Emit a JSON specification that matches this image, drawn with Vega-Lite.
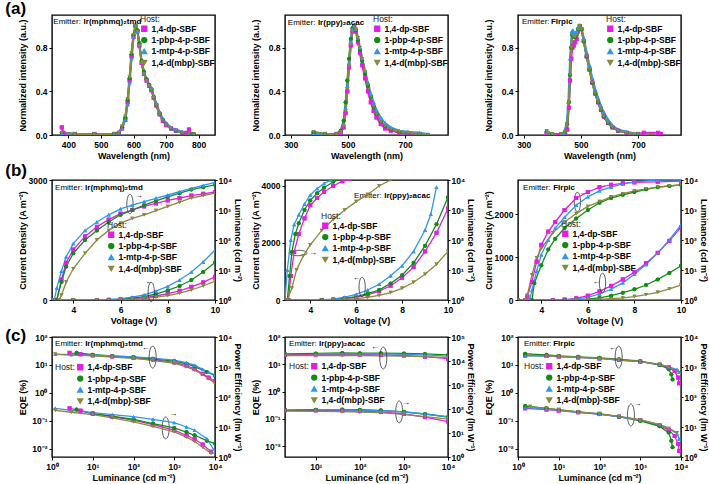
{
"$schema": "https://vega.github.io/schema/vega-lite/v6.json",
"padding": {"left": 5, "top": 0, "right": 0, "bottom": 0},
"background": "white",
"config": {
 "font": "Liberation Sans",
 "view": {"stroke": "black", "strokeWidth": 1.4},
 "axis": {"labelFontSize": 8.5, "labelFontWeight": "bold", "labelColor": "black", "titleFontSize": 9, "titleFontWeight": "bold", "titleColor": "black", "grid": false, "domain": false, "tickColor": "black", "tickSize": 3, "tickWidth": 1, "labelPadding": 2, "titlePadding": 3, "labelFlush": false, "labelOverlap": false},
 "axisLeft": {"titleX": -25, "titleY": 60},
 "axisRight": {"tickSize": 2, "labelPadding": 1, "titlePadding": 1},
 "legend": {"titleFontWeight": "normal", "titleFontSize": 8.5, "titleColor": "#222222", "labelFontSize": 8.5, "labelFontWeight": "bold", "labelColor": "black", "symbolSize": 25, "rowPadding": 0.3, "padding": 0, "titlePadding": 1, "labelOffset": 3, "symbolStrokeWidth": 0},
 "range": {"category": ["#e31ee3", "#128c12", "#3097f0", "#8a8a3e"], "symbol": ["square", "circle", "triangle-up", "triangle-down"]},
 "line": {"strokeWidth": 1.3},
 "point": {"filled": true, "size": 16, "opacity": 1},
 "text": {"fontSize": 8, "color": "black"}
},
"datasets": {
 "a1": [
  {"s":"1,4-dp-SBF","x":380,"y":0.07},{"s":"1,4-dp-SBF","x":385,"y":0.02},{"s":"1,4-dp-SBF","x":420,"y":0.01},{"s":"1,4-dp-SBF","x":480,"y":0.01},{"s":"1,4-dp-SBF","x":540,"y":0.01},{"s":"1,4-dp-SBF","x":555,"y":0.02},{"s":"1,4-dp-SBF","x":565,"y":0.06},{"s":"1,4-dp-SBF","x":575,"y":0.14},{"s":"1,4-dp-SBF","x":582,"y":0.3},{"s":"1,4-dp-SBF","x":588,"y":0.5},{"s":"1,4-dp-SBF","x":594,"y":0.72},{"s":"1,4-dp-SBF","x":600,"y":0.9},{"s":"1,4-dp-SBF","x":606,"y":1.0},{"s":"1,4-dp-SBF","x":612,"y":0.95},{"s":"1,4-dp-SBF","x":618,"y":0.82},{"s":"1,4-dp-SBF","x":625,"y":0.66},{"s":"1,4-dp-SBF","x":632,"y":0.56},{"s":"1,4-dp-SBF","x":640,"y":0.5},{"s":"1,4-dp-SBF","x":648,"y":0.45},{"s":"1,4-dp-SBF","x":655,"y":0.41},{"s":"1,4-dp-SBF","x":662,"y":0.34},{"s":"1,4-dp-SBF","x":670,"y":0.27},{"s":"1,4-dp-SBF","x":680,"y":0.19},{"s":"1,4-dp-SBF","x":690,"y":0.13},{"s":"1,4-dp-SBF","x":700,"y":0.09},{"s":"1,4-dp-SBF","x":715,"y":0.06},{"s":"1,4-dp-SBF","x":730,"y":0.04},{"s":"1,4-dp-SBF","x":750,"y":0.02},{"s":"1,4-dp-SBF","x":765,"y":0.02},{"s":"1,4-dp-SBF","x":770,"y":0.05},{"s":"1,4-dp-SBF","x":775,"y":0.01},{"s":"1,4-dp-SBF","x":785,"y":0.0},
  {"s":"1-pbp-4-p-SBF","x":380,"y":0.02},{"s":"1-pbp-4-p-SBF","x":420,"y":0.01},{"s":"1-pbp-4-p-SBF","x":480,"y":0.01},{"s":"1-pbp-4-p-SBF","x":540,"y":0.01},{"s":"1-pbp-4-p-SBF","x":555,"y":0.02},{"s":"1-pbp-4-p-SBF","x":565,"y":0.07},{"s":"1-pbp-4-p-SBF","x":575,"y":0.16},{"s":"1-pbp-4-p-SBF","x":582,"y":0.32},{"s":"1-pbp-4-p-SBF","x":588,"y":0.52},{"s":"1-pbp-4-p-SBF","x":594,"y":0.74},{"s":"1-pbp-4-p-SBF","x":600,"y":0.92},{"s":"1-pbp-4-p-SBF","x":606,"y":1.0},{"s":"1-pbp-4-p-SBF","x":612,"y":0.96},{"s":"1-pbp-4-p-SBF","x":618,"y":0.84},{"s":"1-pbp-4-p-SBF","x":625,"y":0.68},{"s":"1-pbp-4-p-SBF","x":632,"y":0.58},{"s":"1-pbp-4-p-SBF","x":640,"y":0.51},{"s":"1-pbp-4-p-SBF","x":648,"y":0.46},{"s":"1-pbp-4-p-SBF","x":655,"y":0.42},{"s":"1-pbp-4-p-SBF","x":662,"y":0.35},{"s":"1-pbp-4-p-SBF","x":670,"y":0.28},{"s":"1-pbp-4-p-SBF","x":680,"y":0.2},{"s":"1-pbp-4-p-SBF","x":690,"y":0.14},{"s":"1-pbp-4-p-SBF","x":700,"y":0.1},{"s":"1-pbp-4-p-SBF","x":715,"y":0.06},{"s":"1-pbp-4-p-SBF","x":730,"y":0.04},{"s":"1-pbp-4-p-SBF","x":750,"y":0.02},{"s":"1-pbp-4-p-SBF","x":770,"y":0.01},{"s":"1-pbp-4-p-SBF","x":785,"y":0.01},
  {"s":"1-mtp-4-p-SBF","x":380,"y":0.01},{"s":"1-mtp-4-p-SBF","x":420,"y":0.01},{"s":"1-mtp-4-p-SBF","x":480,"y":0.01},{"s":"1-mtp-4-p-SBF","x":540,"y":0.01},{"s":"1-mtp-4-p-SBF","x":555,"y":0.02},{"s":"1-mtp-4-p-SBF","x":565,"y":0.06},{"s":"1-mtp-4-p-SBF","x":575,"y":0.14},{"s":"1-mtp-4-p-SBF","x":582,"y":0.28},{"s":"1-mtp-4-p-SBF","x":588,"y":0.48},{"s":"1-mtp-4-p-SBF","x":594,"y":0.7},{"s":"1-mtp-4-p-SBF","x":600,"y":0.9},{"s":"1-mtp-4-p-SBF","x":606,"y":1.0},{"s":"1-mtp-4-p-SBF","x":612,"y":0.95},{"s":"1-mtp-4-p-SBF","x":618,"y":0.83},{"s":"1-mtp-4-p-SBF","x":625,"y":0.67},{"s":"1-mtp-4-p-SBF","x":632,"y":0.57},{"s":"1-mtp-4-p-SBF","x":640,"y":0.5},{"s":"1-mtp-4-p-SBF","x":648,"y":0.46},{"s":"1-mtp-4-p-SBF","x":655,"y":0.43},{"s":"1-mtp-4-p-SBF","x":662,"y":0.36},{"s":"1-mtp-4-p-SBF","x":670,"y":0.29},{"s":"1-mtp-4-p-SBF","x":680,"y":0.21},{"s":"1-mtp-4-p-SBF","x":690,"y":0.15},{"s":"1-mtp-4-p-SBF","x":700,"y":0.11},{"s":"1-mtp-4-p-SBF","x":715,"y":0.07},{"s":"1-mtp-4-p-SBF","x":730,"y":0.05},{"s":"1-mtp-4-p-SBF","x":750,"y":0.03},{"s":"1-mtp-4-p-SBF","x":770,"y":0.02},{"s":"1-mtp-4-p-SBF","x":785,"y":0.01},
  {"s":"1,4-d(mbp)-SBF","x":380,"y":0.02},{"s":"1,4-d(mbp)-SBF","x":420,"y":0.01},{"s":"1,4-d(mbp)-SBF","x":480,"y":0.01},{"s":"1,4-d(mbp)-SBF","x":540,"y":0.01},{"s":"1,4-d(mbp)-SBF","x":555,"y":0.02},{"s":"1,4-d(mbp)-SBF","x":565,"y":0.08},{"s":"1,4-d(mbp)-SBF","x":575,"y":0.17},{"s":"1,4-d(mbp)-SBF","x":582,"y":0.33},{"s":"1,4-d(mbp)-SBF","x":588,"y":0.53},{"s":"1,4-d(mbp)-SBF","x":594,"y":0.75},{"s":"1,4-d(mbp)-SBF","x":600,"y":0.92},{"s":"1,4-d(mbp)-SBF","x":606,"y":1.0},{"s":"1,4-d(mbp)-SBF","x":612,"y":0.95},{"s":"1,4-d(mbp)-SBF","x":618,"y":0.82},{"s":"1,4-d(mbp)-SBF","x":625,"y":0.66},{"s":"1,4-d(mbp)-SBF","x":632,"y":0.56},{"s":"1,4-d(mbp)-SBF","x":640,"y":0.5},{"s":"1,4-d(mbp)-SBF","x":648,"y":0.45},{"s":"1,4-d(mbp)-SBF","x":655,"y":0.41},{"s":"1,4-d(mbp)-SBF","x":662,"y":0.34},{"s":"1,4-d(mbp)-SBF","x":670,"y":0.27},{"s":"1,4-d(mbp)-SBF","x":680,"y":0.19},{"s":"1,4-d(mbp)-SBF","x":690,"y":0.13},{"s":"1,4-d(mbp)-SBF","x":700,"y":0.09},{"s":"1,4-d(mbp)-SBF","x":715,"y":0.06},{"s":"1,4-d(mbp)-SBF","x":730,"y":0.04},{"s":"1,4-d(mbp)-SBF","x":750,"y":0.02},{"s":"1,4-d(mbp)-SBF","x":770,"y":0.01},{"s":"1,4-d(mbp)-SBF","x":785,"y":0.0}
 ],
 "a2": [
  {"s":"1,4-dp-SBF","x":380,"y":0.02},{"s":"1,4-dp-SBF","x":420,"y":0.01},{"s":"1,4-dp-SBF","x":460,"y":0.01},{"s":"1,4-dp-SBF","x":475,"y":0.02},{"s":"1,4-dp-SBF","x":485,"y":0.07},{"s":"1,4-dp-SBF","x":492,"y":0.2},{"s":"1,4-dp-SBF","x":498,"y":0.4},{"s":"1,4-dp-SBF","x":504,"y":0.62},{"s":"1,4-dp-SBF","x":510,"y":0.82},{"s":"1,4-dp-SBF","x":516,"y":0.95},{"s":"1,4-dp-SBF","x":522,"y":1.0},{"s":"1,4-dp-SBF","x":528,"y":0.95},{"s":"1,4-dp-SBF","x":535,"y":0.85},{"s":"1,4-dp-SBF","x":542,"y":0.75},{"s":"1,4-dp-SBF","x":550,"y":0.64},{"s":"1,4-dp-SBF","x":560,"y":0.52},{"s":"1,4-dp-SBF","x":570,"y":0.4},{"s":"1,4-dp-SBF","x":580,"y":0.3},{"s":"1,4-dp-SBF","x":590,"y":0.22},{"s":"1,4-dp-SBF","x":600,"y":0.16},{"s":"1,4-dp-SBF","x":615,"y":0.1},{"s":"1,4-dp-SBF","x":630,"y":0.06},{"s":"1,4-dp-SBF","x":650,"y":0.04},{"s":"1,4-dp-SBF","x":680,"y":0.02},{"s":"1,4-dp-SBF","x":710,"y":0.01},{"s":"1,4-dp-SBF","x":750,"y":0.01},{"s":"1,4-dp-SBF","x":780,"y":0.0},
  {"s":"1-pbp-4-p-SBF","x":380,"y":0.02},{"s":"1-pbp-4-p-SBF","x":420,"y":0.01},{"s":"1-pbp-4-p-SBF","x":460,"y":0.01},{"s":"1-pbp-4-p-SBF","x":475,"y":0.04},{"s":"1-pbp-4-p-SBF","x":485,"y":0.13},{"s":"1-pbp-4-p-SBF","x":492,"y":0.3},{"s":"1-pbp-4-p-SBF","x":498,"y":0.5},{"s":"1-pbp-4-p-SBF","x":504,"y":0.7},{"s":"1-pbp-4-p-SBF","x":510,"y":0.88},{"s":"1-pbp-4-p-SBF","x":516,"y":0.98},{"s":"1-pbp-4-p-SBF","x":522,"y":1.0},{"s":"1-pbp-4-p-SBF","x":528,"y":0.96},{"s":"1-pbp-4-p-SBF","x":535,"y":0.87},{"s":"1-pbp-4-p-SBF","x":542,"y":0.78},{"s":"1-pbp-4-p-SBF","x":550,"y":0.68},{"s":"1-pbp-4-p-SBF","x":560,"y":0.56},{"s":"1-pbp-4-p-SBF","x":570,"y":0.45},{"s":"1-pbp-4-p-SBF","x":580,"y":0.35},{"s":"1-pbp-4-p-SBF","x":590,"y":0.26},{"s":"1-pbp-4-p-SBF","x":600,"y":0.19},{"s":"1-pbp-4-p-SBF","x":615,"y":0.12},{"s":"1-pbp-4-p-SBF","x":630,"y":0.08},{"s":"1-pbp-4-p-SBF","x":650,"y":0.05},{"s":"1-pbp-4-p-SBF","x":680,"y":0.03},{"s":"1-pbp-4-p-SBF","x":710,"y":0.02},{"s":"1-pbp-4-p-SBF","x":750,"y":0.01},{"s":"1-pbp-4-p-SBF","x":780,"y":0.0},
  {"s":"1-mtp-4-p-SBF","x":380,"y":0.01},{"s":"1-mtp-4-p-SBF","x":420,"y":0.01},{"s":"1-mtp-4-p-SBF","x":460,"y":0.01},{"s":"1-mtp-4-p-SBF","x":475,"y":0.03},{"s":"1-mtp-4-p-SBF","x":485,"y":0.1},{"s":"1-mtp-4-p-SBF","x":492,"y":0.25},{"s":"1-mtp-4-p-SBF","x":498,"y":0.45},{"s":"1-mtp-4-p-SBF","x":504,"y":0.66},{"s":"1-mtp-4-p-SBF","x":510,"y":0.86},{"s":"1-mtp-4-p-SBF","x":516,"y":0.97},{"s":"1-mtp-4-p-SBF","x":522,"y":1.0},{"s":"1-mtp-4-p-SBF","x":528,"y":0.97},{"s":"1-mtp-4-p-SBF","x":535,"y":0.89},{"s":"1-mtp-4-p-SBF","x":542,"y":0.8},{"s":"1-mtp-4-p-SBF","x":550,"y":0.7},{"s":"1-mtp-4-p-SBF","x":560,"y":0.59},{"s":"1-mtp-4-p-SBF","x":570,"y":0.48},{"s":"1-mtp-4-p-SBF","x":580,"y":0.38},{"s":"1-mtp-4-p-SBF","x":590,"y":0.3},{"s":"1-mtp-4-p-SBF","x":600,"y":0.23},{"s":"1-mtp-4-p-SBF","x":615,"y":0.16},{"s":"1-mtp-4-p-SBF","x":630,"y":0.11},{"s":"1-mtp-4-p-SBF","x":650,"y":0.07},{"s":"1-mtp-4-p-SBF","x":680,"y":0.04},{"s":"1-mtp-4-p-SBF","x":710,"y":0.03},{"s":"1-mtp-4-p-SBF","x":750,"y":0.02},{"s":"1-mtp-4-p-SBF","x":780,"y":0.01},
  {"s":"1,4-d(mbp)-SBF","x":380,"y":0.03},{"s":"1,4-d(mbp)-SBF","x":420,"y":0.01},{"s":"1,4-d(mbp)-SBF","x":460,"y":0.01},{"s":"1,4-d(mbp)-SBF","x":475,"y":0.03},{"s":"1,4-d(mbp)-SBF","x":485,"y":0.08},{"s":"1,4-d(mbp)-SBF","x":492,"y":0.22},{"s":"1,4-d(mbp)-SBF","x":498,"y":0.42},{"s":"1,4-d(mbp)-SBF","x":504,"y":0.63},{"s":"1,4-d(mbp)-SBF","x":510,"y":0.83},{"s":"1,4-d(mbp)-SBF","x":516,"y":0.95},{"s":"1,4-d(mbp)-SBF","x":522,"y":1.0},{"s":"1,4-d(mbp)-SBF","x":528,"y":0.97},{"s":"1,4-d(mbp)-SBF","x":535,"y":0.89},{"s":"1,4-d(mbp)-SBF","x":542,"y":0.8},{"s":"1,4-d(mbp)-SBF","x":550,"y":0.7},{"s":"1,4-d(mbp)-SBF","x":560,"y":0.58},{"s":"1,4-d(mbp)-SBF","x":570,"y":0.46},{"s":"1,4-d(mbp)-SBF","x":580,"y":0.35},{"s":"1,4-d(mbp)-SBF","x":590,"y":0.26},{"s":"1,4-d(mbp)-SBF","x":600,"y":0.19},{"s":"1,4-d(mbp)-SBF","x":615,"y":0.12},{"s":"1,4-d(mbp)-SBF","x":630,"y":0.08},{"s":"1,4-d(mbp)-SBF","x":650,"y":0.05},{"s":"1,4-d(mbp)-SBF","x":680,"y":0.03},{"s":"1,4-d(mbp)-SBF","x":710,"y":0.02},{"s":"1,4-d(mbp)-SBF","x":750,"y":0.01},{"s":"1,4-d(mbp)-SBF","x":780,"y":0.0}
 ],
 "a3": [
  {"s":"1,4-dp-SBF","x":380,"y":0.01},{"s":"1,4-dp-SBF","x":420,"y":0.0},{"s":"1,4-dp-SBF","x":445,"y":0.0},{"s":"1,4-dp-SBF","x":452,"y":0.05},{"s":"1,4-dp-SBF","x":458,"y":0.25},{"s":"1,4-dp-SBF","x":462,"y":0.5},{"s":"1,4-dp-SBF","x":466,"y":0.7},{"s":"1,4-dp-SBF","x":470,"y":0.8},{"s":"1,4-dp-SBF","x":475,"y":0.82},{"s":"1,4-dp-SBF","x":480,"y":0.85},{"s":"1,4-dp-SBF","x":485,"y":0.88},{"s":"1,4-dp-SBF","x":490,"y":0.95},{"s":"1,4-dp-SBF","x":496,"y":1.0},{"s":"1,4-dp-SBF","x":502,"y":0.97},{"s":"1,4-dp-SBF","x":510,"y":0.86},{"s":"1,4-dp-SBF","x":520,"y":0.72},{"s":"1,4-dp-SBF","x":530,"y":0.6},{"s":"1,4-dp-SBF","x":540,"y":0.48},{"s":"1,4-dp-SBF","x":550,"y":0.38},{"s":"1,4-dp-SBF","x":560,"y":0.3},{"s":"1,4-dp-SBF","x":570,"y":0.23},{"s":"1,4-dp-SBF","x":580,"y":0.17},{"s":"1,4-dp-SBF","x":595,"y":0.11},{"s":"1,4-dp-SBF","x":610,"y":0.07},{"s":"1,4-dp-SBF","x":630,"y":0.04},{"s":"1,4-dp-SBF","x":660,"y":0.02},{"s":"1,4-dp-SBF","x":700,"y":0.01},{"s":"1,4-dp-SBF","x":720,"y":0.02},{"s":"1,4-dp-SBF","x":770,"y":0.02},{"s":"1,4-dp-SBF","x":780,"y":0.01},
  {"s":"1-pbp-4-p-SBF","x":380,"y":0.03},{"s":"1-pbp-4-p-SBF","x":400,"y":0.01},{"s":"1-pbp-4-p-SBF","x":430,"y":0.01},{"s":"1-pbp-4-p-SBF","x":445,"y":0.03},{"s":"1-pbp-4-p-SBF","x":452,"y":0.1},{"s":"1-pbp-4-p-SBF","x":458,"y":0.3},{"s":"1-pbp-4-p-SBF","x":462,"y":0.55},{"s":"1-pbp-4-p-SBF","x":466,"y":0.8},{"s":"1-pbp-4-p-SBF","x":470,"y":0.92},{"s":"1-pbp-4-p-SBF","x":475,"y":0.9},{"s":"1-pbp-4-p-SBF","x":480,"y":0.9},{"s":"1-pbp-4-p-SBF","x":485,"y":0.92},{"s":"1-pbp-4-p-SBF","x":490,"y":0.97},{"s":"1-pbp-4-p-SBF","x":496,"y":1.0},{"s":"1-pbp-4-p-SBF","x":502,"y":0.97},{"s":"1-pbp-4-p-SBF","x":510,"y":0.86},{"s":"1-pbp-4-p-SBF","x":520,"y":0.72},{"s":"1-pbp-4-p-SBF","x":530,"y":0.6},{"s":"1-pbp-4-p-SBF","x":540,"y":0.48},{"s":"1-pbp-4-p-SBF","x":550,"y":0.38},{"s":"1-pbp-4-p-SBF","x":560,"y":0.3},{"s":"1-pbp-4-p-SBF","x":570,"y":0.23},{"s":"1-pbp-4-p-SBF","x":580,"y":0.17},{"s":"1-pbp-4-p-SBF","x":595,"y":0.11},{"s":"1-pbp-4-p-SBF","x":610,"y":0.07},{"s":"1-pbp-4-p-SBF","x":630,"y":0.04},{"s":"1-pbp-4-p-SBF","x":660,"y":0.02},{"s":"1-pbp-4-p-SBF","x":700,"y":0.01},{"s":"1-pbp-4-p-SBF","x":750,"y":0.0},
  {"s":"1-mtp-4-p-SBF","x":380,"y":0.02},{"s":"1-mtp-4-p-SBF","x":400,"y":0.01},{"s":"1-mtp-4-p-SBF","x":430,"y":0.01},{"s":"1-mtp-4-p-SBF","x":440,"y":0.02},{"s":"1-mtp-4-p-SBF","x":450,"y":0.1},{"s":"1-mtp-4-p-SBF","x":456,"y":0.3},{"s":"1-mtp-4-p-SBF","x":462,"y":0.7},{"s":"1-mtp-4-p-SBF","x":468,"y":0.95},{"s":"1-mtp-4-p-SBF","x":472,"y":0.96},{"s":"1-mtp-4-p-SBF","x":478,"y":0.93},{"s":"1-mtp-4-p-SBF","x":485,"y":0.95},{"s":"1-mtp-4-p-SBF","x":490,"y":0.98},{"s":"1-mtp-4-p-SBF","x":496,"y":1.0},{"s":"1-mtp-4-p-SBF","x":502,"y":0.98},{"s":"1-mtp-4-p-SBF","x":510,"y":0.89},{"s":"1-mtp-4-p-SBF","x":520,"y":0.76},{"s":"1-mtp-4-p-SBF","x":530,"y":0.64},{"s":"1-mtp-4-p-SBF","x":540,"y":0.52},{"s":"1-mtp-4-p-SBF","x":550,"y":0.42},{"s":"1-mtp-4-p-SBF","x":560,"y":0.34},{"s":"1-mtp-4-p-SBF","x":570,"y":0.27},{"s":"1-mtp-4-p-SBF","x":580,"y":0.21},{"s":"1-mtp-4-p-SBF","x":595,"y":0.14},{"s":"1-mtp-4-p-SBF","x":610,"y":0.09},{"s":"1-mtp-4-p-SBF","x":630,"y":0.05},{"s":"1-mtp-4-p-SBF","x":660,"y":0.03},{"s":"1-mtp-4-p-SBF","x":700,"y":0.01},{"s":"1-mtp-4-p-SBF","x":750,"y":0.0},
  {"s":"1,4-d(mbp)-SBF","x":380,"y":0.04},{"s":"1,4-d(mbp)-SBF","x":385,"y":0.02},{"s":"1,4-d(mbp)-SBF","x":400,"y":0.01},{"s":"1,4-d(mbp)-SBF","x":430,"y":0.01},{"s":"1,4-d(mbp)-SBF","x":445,"y":0.03},{"s":"1,4-d(mbp)-SBF","x":452,"y":0.1},{"s":"1,4-d(mbp)-SBF","x":458,"y":0.3},{"s":"1,4-d(mbp)-SBF","x":462,"y":0.55},{"s":"1,4-d(mbp)-SBF","x":466,"y":0.8},{"s":"1,4-d(mbp)-SBF","x":470,"y":0.92},{"s":"1,4-d(mbp)-SBF","x":475,"y":0.9},{"s":"1,4-d(mbp)-SBF","x":480,"y":0.9},{"s":"1,4-d(mbp)-SBF","x":485,"y":0.92},{"s":"1,4-d(mbp)-SBF","x":490,"y":0.97},{"s":"1,4-d(mbp)-SBF","x":496,"y":1.0},{"s":"1,4-d(mbp)-SBF","x":502,"y":0.97},{"s":"1,4-d(mbp)-SBF","x":510,"y":0.86},{"s":"1,4-d(mbp)-SBF","x":520,"y":0.72},{"s":"1,4-d(mbp)-SBF","x":530,"y":0.6},{"s":"1,4-d(mbp)-SBF","x":540,"y":0.48},{"s":"1,4-d(mbp)-SBF","x":550,"y":0.38},{"s":"1,4-d(mbp)-SBF","x":560,"y":0.3},{"s":"1,4-d(mbp)-SBF","x":570,"y":0.23},{"s":"1,4-d(mbp)-SBF","x":580,"y":0.17},{"s":"1,4-d(mbp)-SBF","x":595,"y":0.11},{"s":"1,4-d(mbp)-SBF","x":610,"y":0.07},{"s":"1,4-d(mbp)-SBF","x":630,"y":0.04},{"s":"1,4-d(mbp)-SBF","x":660,"y":0.02},{"s":"1,4-d(mbp)-SBF","x":700,"y":0.01},{"s":"1,4-d(mbp)-SBF","x":750,"y":0.0}
 ],
 "b1J": [
  {"s":"1,4-dp-SBF","x":3.1,"y":0},{"s":"1,4-dp-SBF","x":4,"y":0},{"s":"1,4-dp-SBF","x":5,"y":0},{"s":"1,4-dp-SBF","x":5.5,"y":4},{"s":"1,4-dp-SBF","x":6,"y":12},{"s":"1,4-dp-SBF","x":6.5,"y":30},{"s":"1,4-dp-SBF","x":7,"y":60},{"s":"1,4-dp-SBF","x":7.5,"y":100},{"s":"1,4-dp-SBF","x":8,"y":160},{"s":"1,4-dp-SBF","x":8.5,"y":230},{"s":"1,4-dp-SBF","x":9,"y":330},{"s":"1,4-dp-SBF","x":9.5,"y":440},{"s":"1,4-dp-SBF","x":10,"y":580},
  {"s":"1-pbp-4-p-SBF","x":3.1,"y":0},{"s":"1-pbp-4-p-SBF","x":4,"y":0},{"s":"1-pbp-4-p-SBF","x":5,"y":0},{"s":"1-pbp-4-p-SBF","x":5.5,"y":5},{"s":"1-pbp-4-p-SBF","x":6,"y":18},{"s":"1-pbp-4-p-SBF","x":6.5,"y":45},{"s":"1-pbp-4-p-SBF","x":7,"y":85},{"s":"1-pbp-4-p-SBF","x":7.5,"y":150},{"s":"1-pbp-4-p-SBF","x":8,"y":240},{"s":"1-pbp-4-p-SBF","x":8.5,"y":350},{"s":"1-pbp-4-p-SBF","x":9,"y":500},{"s":"1-pbp-4-p-SBF","x":9.5,"y":700},{"s":"1-pbp-4-p-SBF","x":10,"y":940},
  {"s":"1-mtp-4-p-SBF","x":3.1,"y":0},{"s":"1-mtp-4-p-SBF","x":4,"y":0},{"s":"1-mtp-4-p-SBF","x":5,"y":3},{"s":"1-mtp-4-p-SBF","x":5.5,"y":12},{"s":"1-mtp-4-p-SBF","x":6,"y":35},{"s":"1-mtp-4-p-SBF","x":6.5,"y":70},{"s":"1-mtp-4-p-SBF","x":7,"y":130},{"s":"1-mtp-4-p-SBF","x":7.5,"y":220},{"s":"1-mtp-4-p-SBF","x":8,"y":340},{"s":"1-mtp-4-p-SBF","x":8.5,"y":500},{"s":"1-mtp-4-p-SBF","x":9,"y":700},{"s":"1-mtp-4-p-SBF","x":9.5,"y":950},{"s":"1-mtp-4-p-SBF","x":10,"y":1250},
  {"s":"1,4-d(mbp)-SBF","x":3.1,"y":0},{"s":"1,4-d(mbp)-SBF","x":4,"y":0},{"s":"1,4-d(mbp)-SBF","x":5,"y":0},{"s":"1,4-d(mbp)-SBF","x":5.5,"y":1},{"s":"1,4-d(mbp)-SBF","x":6,"y":5},{"s":"1,4-d(mbp)-SBF","x":6.5,"y":15},{"s":"1,4-d(mbp)-SBF","x":7,"y":35},{"s":"1,4-d(mbp)-SBF","x":7.5,"y":70},{"s":"1,4-d(mbp)-SBF","x":8,"y":110},{"s":"1,4-d(mbp)-SBF","x":8.5,"y":170},{"s":"1,4-d(mbp)-SBF","x":9,"y":250},{"s":"1,4-d(mbp)-SBF","x":9.5,"y":350},{"s":"1,4-d(mbp)-SBF","x":10,"y":475}
 ],
 "b1L": [
  {"s":"1,4-dp-SBF","x":3.3,"y":1.0},{"s":"1,4-dp-SBF","x":3.5,"y":4.8},{"s":"1,4-dp-SBF","x":3.7,"y":17.4},{"s":"1,4-dp-SBF","x":4.0,"y":48},{"s":"1,4-dp-SBF","x":4.5,"y":132},{"s":"1,4-dp-SBF","x":5.0,"y":275},{"s":"1,4-dp-SBF","x":5.5,"y":479},{"s":"1,4-dp-SBF","x":6.0,"y":759},{"s":"1,4-dp-SBF","x":6.5,"y":1000},{"s":"1,4-dp-SBF","x":7,"y":1318},{"s":"1,4-dp-SBF","x":7.5,"y":1660},{"s":"1,4-dp-SBF","x":8,"y":2089},{"s":"1,4-dp-SBF","x":8.5,"y":2512},{"s":"1,4-dp-SBF","x":9,"y":3020},{"s":"1,4-dp-SBF","x":9.5,"y":3467},{"s":"1,4-dp-SBF","x":10,"y":3981},
  {"s":"1-pbp-4-p-SBF","x":3.3,"y":1.0},{"s":"1-pbp-4-p-SBF","x":3.5,"y":4.0},{"s":"1-pbp-4-p-SBF","x":3.7,"y":13.2},{"s":"1-pbp-4-p-SBF","x":4.0,"y":36},{"s":"1-pbp-4-p-SBF","x":4.5,"y":100},{"s":"1-pbp-4-p-SBF","x":5.0,"y":209},{"s":"1-pbp-4-p-SBF","x":5.5,"y":398},{"s":"1-pbp-4-p-SBF","x":6.0,"y":692},{"s":"1-pbp-4-p-SBF","x":6.5,"y":1000},{"s":"1-pbp-4-p-SBF","x":7,"y":1445},{"s":"1-pbp-4-p-SBF","x":7.5,"y":2000},{"s":"1-pbp-4-p-SBF","x":8,"y":2754},{"s":"1-pbp-4-p-SBF","x":8.5,"y":3631},{"s":"1-pbp-4-p-SBF","x":9,"y":4786},{"s":"1-pbp-4-p-SBF","x":9.5,"y":5754},{"s":"1-pbp-4-p-SBF","x":10,"y":6918},
  {"s":"1-mtp-4-p-SBF","x":3.2,"y":1.0},{"s":"1-mtp-4-p-SBF","x":3.3,"y":2.5},{"s":"1-mtp-4-p-SBF","x":3.5,"y":9.1},{"s":"1-mtp-4-p-SBF","x":3.7,"y":27.5},{"s":"1-mtp-4-p-SBF","x":4.0,"y":76},{"s":"1-mtp-4-p-SBF","x":4.5,"y":209},{"s":"1-mtp-4-p-SBF","x":5.0,"y":398},{"s":"1-mtp-4-p-SBF","x":5.5,"y":692},{"s":"1-mtp-4-p-SBF","x":6.0,"y":1096},{"s":"1-mtp-4-p-SBF","x":6.5,"y":1445},{"s":"1-mtp-4-p-SBF","x":7,"y":1905},{"s":"1-mtp-4-p-SBF","x":7.5,"y":2455},{"s":"1-mtp-4-p-SBF","x":8,"y":3162},{"s":"1-mtp-4-p-SBF","x":8.5,"y":4073},{"s":"1-mtp-4-p-SBF","x":9,"y":5248},{"s":"1-mtp-4-p-SBF","x":9.5,"y":6607},{"s":"1-mtp-4-p-SBF","x":10,"y":8318},
  {"s":"1,4-d(mbp)-SBF","x":3.4,"y":1.0},{"s":"1,4-d(mbp)-SBF","x":3.5,"y":1.45},{"s":"1,4-d(mbp)-SBF","x":3.7,"y":4.0},{"s":"1,4-d(mbp)-SBF","x":4.0,"y":11},{"s":"1,4-d(mbp)-SBF","x":4.5,"y":36},{"s":"1,4-d(mbp)-SBF","x":5.0,"y":100},{"s":"1,4-d(mbp)-SBF","x":5.5,"y":209},{"s":"1,4-d(mbp)-SBF","x":6.0,"y":363},{"s":"1,4-d(mbp)-SBF","x":6.5,"y":525},{"s":"1,4-d(mbp)-SBF","x":7,"y":692},{"s":"1,4-d(mbp)-SBF","x":7.5,"y":955},{"s":"1,4-d(mbp)-SBF","x":8,"y":1318},{"s":"1,4-d(mbp)-SBF","x":8.5,"y":1820},{"s":"1,4-d(mbp)-SBF","x":9,"y":2512},{"s":"1,4-d(mbp)-SBF","x":9.5,"y":3020},{"s":"1,4-d(mbp)-SBF","x":10,"y":3631}
 ],
 "b2J": [
  {"s":"1,4-dp-SBF","x":2.9,"y":0},{"s":"1,4-dp-SBF","x":4.5,"y":0},{"s":"1,4-dp-SBF","x":5,"y":15},{"s":"1,4-dp-SBF","x":5.5,"y":45},{"s":"1,4-dp-SBF","x":6,"y":100},{"s":"1,4-dp-SBF","x":6.5,"y":180},{"s":"1,4-dp-SBF","x":7,"y":310},{"s":"1,4-dp-SBF","x":7.5,"y":500},{"s":"1,4-dp-SBF","x":8,"y":780},{"s":"1,4-dp-SBF","x":8.5,"y":1150},{"s":"1,4-dp-SBF","x":9,"y":1700},{"s":"1,4-dp-SBF","x":9.5,"y":2350},{"s":"1,4-dp-SBF","x":10,"y":3200},
  {"s":"1-pbp-4-p-SBF","x":2.9,"y":0},{"s":"1-pbp-4-p-SBF","x":4.5,"y":0},{"s":"1-pbp-4-p-SBF","x":5,"y":20},{"s":"1-pbp-4-p-SBF","x":5.5,"y":60},{"s":"1-pbp-4-p-SBF","x":6,"y":120},{"s":"1-pbp-4-p-SBF","x":6.5,"y":220},{"s":"1-pbp-4-p-SBF","x":7,"y":350},{"s":"1-pbp-4-p-SBF","x":7.5,"y":580},{"s":"1-pbp-4-p-SBF","x":8,"y":870},{"s":"1-pbp-4-p-SBF","x":8.5,"y":1300},{"s":"1-pbp-4-p-SBF","x":9,"y":1900},{"s":"1-pbp-4-p-SBF","x":9.5,"y":2650},{"s":"1-pbp-4-p-SBF","x":10,"y":3600},
  {"s":"1-mtp-4-p-SBF","x":2.9,"y":0},{"s":"1-mtp-4-p-SBF","x":4.5,"y":5},{"s":"1-mtp-4-p-SBF","x":5,"y":30},{"s":"1-mtp-4-p-SBF","x":5.5,"y":100},{"s":"1-mtp-4-p-SBF","x":6,"y":200},{"s":"1-mtp-4-p-SBF","x":6.5,"y":350},{"s":"1-mtp-4-p-SBF","x":7,"y":550},{"s":"1-mtp-4-p-SBF","x":7.5,"y":850},{"s":"1-mtp-4-p-SBF","x":8,"y":1200},{"s":"1-mtp-4-p-SBF","x":8.5,"y":1700},{"s":"1-mtp-4-p-SBF","x":9,"y":2450},{"s":"1-mtp-4-p-SBF","x":9.25,"y":3000},{"s":"1-mtp-4-p-SBF","x":9.5,"y":3950},
  {"s":"1,4-d(mbp)-SBF","x":2.9,"y":0},{"s":"1,4-d(mbp)-SBF","x":5,"y":0},{"s":"1,4-d(mbp)-SBF","x":5.5,"y":15},{"s":"1,4-d(mbp)-SBF","x":6,"y":45},{"s":"1,4-d(mbp)-SBF","x":6.5,"y":90},{"s":"1,4-d(mbp)-SBF","x":7,"y":160},{"s":"1,4-d(mbp)-SBF","x":7.5,"y":260},{"s":"1,4-d(mbp)-SBF","x":8,"y":410},{"s":"1,4-d(mbp)-SBF","x":8.5,"y":620},{"s":"1,4-d(mbp)-SBF","x":9,"y":900},{"s":"1,4-d(mbp)-SBF","x":9.5,"y":1250},{"s":"1,4-d(mbp)-SBF","x":10,"y":1700}
 ],
 "b2L": [
  {"s":"1,4-dp-SBF","x":3.05,"y":1.0},{"s":"1,4-dp-SBF","x":3.15,"y":6.3},{"s":"1,4-dp-SBF","x":3.3,"y":40},{"s":"1,4-dp-SBF","x":3.5,"y":158},{"s":"1,4-dp-SBF","x":3.75,"y":525},{"s":"1,4-dp-SBF","x":4.0,"y":1445},{"s":"1,4-dp-SBF","x":4.3,"y":2512},{"s":"1,4-dp-SBF","x":4.6,"y":3981},{"s":"1,4-dp-SBF","x":5.0,"y":6310},{"s":"1,4-dp-SBF","x":5.4,"y":9120},{"s":"1,4-dp-SBF","x":5.7,"y":11000},
  {"s":"1-pbp-4-p-SBF","x":3.0,"y":1.0},{"s":"1-pbp-4-p-SBF","x":3.1,"y":6.3},{"s":"1-pbp-4-p-SBF","x":3.2,"y":40},{"s":"1-pbp-4-p-SBF","x":3.35,"y":158},{"s":"1-pbp-4-p-SBF","x":3.5,"y":363},{"s":"1-pbp-4-p-SBF","x":3.75,"y":1000},{"s":"1-pbp-4-p-SBF","x":4.0,"y":2089},{"s":"1-pbp-4-p-SBF","x":4.3,"y":3631},{"s":"1-pbp-4-p-SBF","x":4.6,"y":5495},{"s":"1-pbp-4-p-SBF","x":5.0,"y":8710},{"s":"1-pbp-4-p-SBF","x":5.3,"y":11000},
  {"s":"1-mtp-4-p-SBF","x":2.9,"y":1.0},{"s":"1-mtp-4-p-SBF","x":3.0,"y":10},{"s":"1-mtp-4-p-SBF","x":3.15,"y":100},{"s":"1-mtp-4-p-SBF","x":3.3,"y":331},{"s":"1-mtp-4-p-SBF","x":3.5,"y":692},{"s":"1-mtp-4-p-SBF","x":3.75,"y":1585},{"s":"1-mtp-4-p-SBF","x":4.0,"y":3162},{"s":"1-mtp-4-p-SBF","x":4.3,"y":5248},{"s":"1-mtp-4-p-SBF","x":4.6,"y":7586},{"s":"1-mtp-4-p-SBF","x":4.9,"y":10000},{"s":"1-mtp-4-p-SBF","x":5.1,"y":12000},
  {"s":"1,4-d(mbp)-SBF","x":3.0,"y":1.0},{"s":"1,4-d(mbp)-SBF","x":3.2,"y":2.5},{"s":"1,4-d(mbp)-SBF","x":3.4,"y":10},{"s":"1,4-d(mbp)-SBF","x":3.7,"y":30},{"s":"1,4-d(mbp)-SBF","x":4.0,"y":69},{"s":"1,4-d(mbp)-SBF","x":4.5,"y":209},{"s":"1,4-d(mbp)-SBF","x":5.0,"y":479},{"s":"1,4-d(mbp)-SBF","x":5.5,"y":1000},{"s":"1,4-d(mbp)-SBF","x":6.0,"y":1905},{"s":"1,4-d(mbp)-SBF","x":6.5,"y":3311},{"s":"1,4-d(mbp)-SBF","x":7.0,"y":6310},{"s":"1,4-d(mbp)-SBF","x":7.5,"y":10000},{"s":"1,4-d(mbp)-SBF","x":7.7,"y":12000}
 ],
 "b3J": [
  {"s":"1,4-dp-SBF","x":3,"y":0},{"s":"1,4-dp-SBF","x":4.5,"y":0},{"s":"1,4-dp-SBF","x":5,"y":10},{"s":"1,4-dp-SBF","x":5.5,"y":40},{"s":"1,4-dp-SBF","x":6,"y":100},{"s":"1,4-dp-SBF","x":6.5,"y":200},{"s":"1,4-dp-SBF","x":7,"y":330},{"s":"1,4-dp-SBF","x":7.5,"y":480},{"s":"1,4-dp-SBF","x":8,"y":650},{"s":"1,4-dp-SBF","x":8.5,"y":860},{"s":"1,4-dp-SBF","x":9,"y":1100},{"s":"1,4-dp-SBF","x":9.5,"y":1380},{"s":"1,4-dp-SBF","x":10,"y":1700},
  {"s":"1-pbp-4-p-SBF","x":3,"y":0},{"s":"1-pbp-4-p-SBF","x":5,"y":0},{"s":"1-pbp-4-p-SBF","x":5.5,"y":5},{"s":"1-pbp-4-p-SBF","x":6,"y":20},{"s":"1-pbp-4-p-SBF","x":6.5,"y":50},{"s":"1-pbp-4-p-SBF","x":7,"y":100},{"s":"1-pbp-4-p-SBF","x":7.5,"y":170},{"s":"1-pbp-4-p-SBF","x":8,"y":250},{"s":"1-pbp-4-p-SBF","x":8.5,"y":350},{"s":"1-pbp-4-p-SBF","x":9,"y":480},{"s":"1-pbp-4-p-SBF","x":9.5,"y":630},{"s":"1-pbp-4-p-SBF","x":10,"y":800},
  {"s":"1-mtp-4-p-SBF","x":3,"y":0},{"s":"1-mtp-4-p-SBF","x":4.5,"y":0},{"s":"1-mtp-4-p-SBF","x":5,"y":5},{"s":"1-mtp-4-p-SBF","x":5.5,"y":25},{"s":"1-mtp-4-p-SBF","x":6,"y":60},{"s":"1-mtp-4-p-SBF","x":6.5,"y":140},{"s":"1-mtp-4-p-SBF","x":7,"y":250},{"s":"1-mtp-4-p-SBF","x":7.5,"y":400},{"s":"1-mtp-4-p-SBF","x":8,"y":600},{"s":"1-mtp-4-p-SBF","x":8.5,"y":830},{"s":"1-mtp-4-p-SBF","x":9,"y":1100},{"s":"1-mtp-4-p-SBF","x":9.5,"y":1400},{"s":"1-mtp-4-p-SBF","x":10,"y":1750},
  {"s":"1,4-d(mbp)-SBF","x":3,"y":0},{"s":"1,4-d(mbp)-SBF","x":5.5,"y":0},{"s":"1,4-d(mbp)-SBF","x":6,"y":5},{"s":"1,4-d(mbp)-SBF","x":6.5,"y":15},{"s":"1,4-d(mbp)-SBF","x":7,"y":30},{"s":"1,4-d(mbp)-SBF","x":7.5,"y":50},{"s":"1,4-d(mbp)-SBF","x":8,"y":80},{"s":"1,4-d(mbp)-SBF","x":8.5,"y":125},{"s":"1,4-d(mbp)-SBF","x":9,"y":180},{"s":"1,4-d(mbp)-SBF","x":9.5,"y":260},{"s":"1,4-d(mbp)-SBF","x":10,"y":350}
 ],
 "b3L": [
  {"s":"1,4-dp-SBF","x":3.3,"y":1.0},{"s":"1,4-dp-SBF","x":3.4,"y":1.3},{"s":"1,4-dp-SBF","x":3.6,"y":4.0},{"s":"1,4-dp-SBF","x":3.8,"y":19},{"s":"1,4-dp-SBF","x":4.0,"y":69},{"s":"1,4-dp-SBF","x":4.3,"y":191},{"s":"1,4-dp-SBF","x":4.6,"y":398},{"s":"1,4-dp-SBF","x":5.0,"y":1000},{"s":"1,4-dp-SBF","x":5.5,"y":2512},{"s":"1,4-dp-SBF","x":6.0,"y":3981},{"s":"1,4-dp-SBF","x":6.5,"y":5754},{"s":"1,4-dp-SBF","x":7,"y":6918},{"s":"1,4-dp-SBF","x":7.5,"y":7762},{"s":"1,4-dp-SBF","x":8,"y":8318},{"s":"1,4-dp-SBF","x":9,"y":8710},{"s":"1,4-dp-SBF","x":10,"y":9120},
  {"s":"1-pbp-4-p-SBF","x":3.6,"y":1.0},{"s":"1-pbp-4-p-SBF","x":3.7,"y":3.6},{"s":"1-pbp-4-p-SBF","x":4.0,"y":14.5},{"s":"1-pbp-4-p-SBF","x":4.3,"y":48},{"s":"1-pbp-4-p-SBF","x":4.6,"y":110},{"s":"1-pbp-4-p-SBF","x":5.0,"y":251},{"s":"1-pbp-4-p-SBF","x":5.5,"y":525},{"s":"1-pbp-4-p-SBF","x":6.0,"y":1000},{"s":"1-pbp-4-p-SBF","x":6.5,"y":1738},{"s":"1-pbp-4-p-SBF","x":7,"y":2512},{"s":"1-pbp-4-p-SBF","x":7.5,"y":3200},{"s":"1-pbp-4-p-SBF","x":8,"y":3981},{"s":"1-pbp-4-p-SBF","x":8.5,"y":4900},{"s":"1-pbp-4-p-SBF","x":9,"y":5754},{"s":"1-pbp-4-p-SBF","x":9.5,"y":6300},{"s":"1-pbp-4-p-SBF","x":10,"y":6918},
  {"s":"1-mtp-4-p-SBF","x":3.5,"y":1.0},{"s":"1-mtp-4-p-SBF","x":3.6,"y":2.1},{"s":"1-mtp-4-p-SBF","x":3.8,"y":9.1},{"s":"1-mtp-4-p-SBF","x":4.0,"y":32},{"s":"1-mtp-4-p-SBF","x":4.3,"y":100},{"s":"1-mtp-4-p-SBF","x":4.6,"y":251},{"s":"1-mtp-4-p-SBF","x":5.0,"y":575},{"s":"1-mtp-4-p-SBF","x":5.5,"y":1445},{"s":"1-mtp-4-p-SBF","x":6.0,"y":2754},{"s":"1-mtp-4-p-SBF","x":6.5,"y":4365},{"s":"1-mtp-4-p-SBF","x":7,"y":5754},{"s":"1-mtp-4-p-SBF","x":7.5,"y":7400},{"s":"1-mtp-4-p-SBF","x":8,"y":8710},{"s":"1-mtp-4-p-SBF","x":9,"y":10000},{"s":"1-mtp-4-p-SBF","x":10,"y":10200},
  {"s":"1,4-d(mbp)-SBF","x":3.3,"y":1.0},{"s":"1,4-d(mbp)-SBF","x":3.4,"y":1.45},{"s":"1,4-d(mbp)-SBF","x":3.6,"y":6.9},{"s":"1,4-d(mbp)-SBF","x":3.8,"y":25},{"s":"1,4-d(mbp)-SBF","x":4.0,"y":52},{"s":"1,4-d(mbp)-SBF","x":4.5,"y":174},{"s":"1,4-d(mbp)-SBF","x":5.0,"y":398},{"s":"1,4-d(mbp)-SBF","x":5.5,"y":759},{"s":"1,4-d(mbp)-SBF","x":6.0,"y":1318},{"s":"1,4-d(mbp)-SBF","x":6.5,"y":1905},{"s":"1,4-d(mbp)-SBF","x":7,"y":2754},{"s":"1,4-d(mbp)-SBF","x":7.5,"y":3500},{"s":"1,4-d(mbp)-SBF","x":8,"y":4365},{"s":"1,4-d(mbp)-SBF","x":8.5,"y":5100},{"s":"1,4-d(mbp)-SBF","x":9,"y":5754},{"s":"1,4-d(mbp)-SBF","x":9.5,"y":6300},{"s":"1,4-d(mbp)-SBF","x":10,"y":6918}
 ],
 "c1E": [
  {"s":"1,4-dp-SBF","x":2.7,"y":27},{"s":"1,4-dp-SBF","x":5,"y":24},{"s":"1,4-dp-SBF","x":10,"y":22},{"s":"1,4-dp-SBF","x":30,"y":20},{"s":"1,4-dp-SBF","x":100,"y":18},{"s":"1,4-dp-SBF","x":300,"y":15.5},{"s":"1,4-dp-SBF","x":1000,"y":12.3},{"s":"1,4-dp-SBF","x":2000,"y":9.5},{"s":"1,4-dp-SBF","x":3162,"y":7.1},{"s":"1,4-dp-SBF","x":5000,"y":4.8},{"s":"1,4-dp-SBF","x":7000,"y":3.5},{"s":"1,4-dp-SBF","x":10000,"y":2.6},
  {"s":"1-pbp-4-p-SBF","x":4,"y":27.5},{"s":"1-pbp-4-p-SBF","x":10,"y":23.3},{"s":"1-pbp-4-p-SBF","x":30,"y":21},{"s":"1-pbp-4-p-SBF","x":100,"y":19},{"s":"1-pbp-4-p-SBF","x":300,"y":16.5},{"s":"1-pbp-4-p-SBF","x":1000,"y":13.7},{"s":"1-pbp-4-p-SBF","x":2000,"y":11},{"s":"1-pbp-4-p-SBF","x":3162,"y":8.6},{"s":"1-pbp-4-p-SBF","x":6300,"y":5.6},{"s":"1-pbp-4-p-SBF","x":10000,"y":4.1},
  {"s":"1-mtp-4-p-SBF","x":1.2,"y":24.5},{"s":"1-mtp-4-p-SBF","x":3,"y":23.5},{"s":"1-mtp-4-p-SBF","x":10,"y":22.5},{"s":"1-mtp-4-p-SBF","x":30,"y":21},{"s":"1-mtp-4-p-SBF","x":100,"y":19.5},{"s":"1-mtp-4-p-SBF","x":300,"y":17.5},{"s":"1-mtp-4-p-SBF","x":1000,"y":14.8},{"s":"1-mtp-4-p-SBF","x":2000,"y":12},{"s":"1-mtp-4-p-SBF","x":3162,"y":9.8},{"s":"1-mtp-4-p-SBF","x":5000,"y":7},{"s":"1-mtp-4-p-SBF","x":7000,"y":5.5},{"s":"1-mtp-4-p-SBF","x":10000,"y":4.3},
  {"s":"1,4-d(mbp)-SBF","x":1.2,"y":24},{"s":"1,4-d(mbp)-SBF","x":3,"y":22.5},{"s":"1,4-d(mbp)-SBF","x":10,"y":21.3},{"s":"1,4-d(mbp)-SBF","x":30,"y":19},{"s":"1,4-d(mbp)-SBF","x":100,"y":17},{"s":"1,4-d(mbp)-SBF","x":300,"y":14.5},{"s":"1,4-d(mbp)-SBF","x":1000,"y":11.3},{"s":"1,4-d(mbp)-SBF","x":2000,"y":8.5},{"s":"1,4-d(mbp)-SBF","x":3162,"y":6.5},{"s":"1,4-d(mbp)-SBF","x":5000,"y":4.5},{"s":"1,4-d(mbp)-SBF","x":7000,"y":3.2},{"s":"1,4-d(mbp)-SBF","x":10000,"y":2.2}
 ],
 "c1P": [
  {"s":"1,4-dp-SBF","x":2.7,"y":42},{"s":"1,4-dp-SBF","x":5,"y":35},{"s":"1,4-dp-SBF","x":10,"y":28},{"s":"1,4-dp-SBF","x":30,"y":22},{"s":"1,4-dp-SBF","x":100,"y":17},{"s":"1,4-dp-SBF","x":300,"y":12},{"s":"1,4-dp-SBF","x":1000,"y":7.8},{"s":"1,4-dp-SBF","x":2000,"y":5.2},{"s":"1,4-dp-SBF","x":3162,"y":3.9},{"s":"1,4-dp-SBF","x":5000,"y":2.6},{"s":"1,4-dp-SBF","x":8000,"y":1.5},
  {"s":"1-pbp-4-p-SBF","x":4,"y":38},{"s":"1-pbp-4-p-SBF","x":10,"y":28},{"s":"1-pbp-4-p-SBF","x":30,"y":23},{"s":"1-pbp-4-p-SBF","x":100,"y":17.8},{"s":"1-pbp-4-p-SBF","x":300,"y":13},{"s":"1-pbp-4-p-SBF","x":1000,"y":9.3},{"s":"1-pbp-4-p-SBF","x":2000,"y":6.8},{"s":"1-pbp-4-p-SBF","x":3162,"y":5.3},{"s":"1-pbp-4-p-SBF","x":6300,"y":3.5},{"s":"1-pbp-4-p-SBF","x":10000,"y":2.8},
  {"s":"1-mtp-4-p-SBF","x":1.2,"y":42},{"s":"1-mtp-4-p-SBF","x":3,"y":36},{"s":"1-mtp-4-p-SBF","x":10,"y":30},{"s":"1-mtp-4-p-SBF","x":30,"y":26},{"s":"1-mtp-4-p-SBF","x":100,"y":22},{"s":"1-mtp-4-p-SBF","x":300,"y":18},{"s":"1-mtp-4-p-SBF","x":1000,"y":14},{"s":"1-mtp-4-p-SBF","x":2000,"y":10},{"s":"1-mtp-4-p-SBF","x":3162,"y":7.8},{"s":"1-mtp-4-p-SBF","x":6300,"y":4.1},{"s":"1-mtp-4-p-SBF","x":10000,"y":1.5},
  {"s":"1,4-d(mbp)-SBF","x":1.2,"y":36},{"s":"1,4-d(mbp)-SBF","x":3,"y":31},{"s":"1,4-d(mbp)-SBF","x":10,"y":26},{"s":"1,4-d(mbp)-SBF","x":30,"y":20},{"s":"1,4-d(mbp)-SBF","x":100,"y":14.8},{"s":"1,4-d(mbp)-SBF","x":300,"y":10.5},{"s":"1,4-d(mbp)-SBF","x":1000,"y":6.9},{"s":"1,4-d(mbp)-SBF","x":2000,"y":4.6},{"s":"1,4-d(mbp)-SBF","x":3162,"y":3.3},{"s":"1,4-d(mbp)-SBF","x":5000,"y":2.1},{"s":"1,4-d(mbp)-SBF","x":8000,"y":1.3}
 ],
 "c2E": [
  {"s":"1,4-dp-SBF","x":2,"y":22},{"s":"1,4-dp-SBF","x":10,"y":23},{"s":"1,4-dp-SBF","x":40,"y":23.5},{"s":"1,4-dp-SBF","x":100,"y":23},{"s":"1,4-dp-SBF","x":300,"y":22},{"s":"1,4-dp-SBF","x":1000,"y":21},{"s":"1,4-dp-SBF","x":3000,"y":19},{"s":"1,4-dp-SBF","x":10000,"y":16},
  {"s":"1-pbp-4-p-SBF","x":2,"y":24},{"s":"1-pbp-4-p-SBF","x":10,"y":25},{"s":"1-pbp-4-p-SBF","x":40,"y":26},{"s":"1-pbp-4-p-SBF","x":100,"y":25.5},{"s":"1-pbp-4-p-SBF","x":300,"y":25.5},{"s":"1-pbp-4-p-SBF","x":1000,"y":25},{"s":"1-pbp-4-p-SBF","x":3000,"y":24},{"s":"1-pbp-4-p-SBF","x":10000,"y":22},
  {"s":"1-mtp-4-p-SBF","x":10,"y":24},{"s":"1-mtp-4-p-SBF","x":40,"y":24.5},{"s":"1-mtp-4-p-SBF","x":100,"y":24},{"s":"1-mtp-4-p-SBF","x":300,"y":24},{"s":"1-mtp-4-p-SBF","x":1000,"y":23},{"s":"1-mtp-4-p-SBF","x":3000,"y":22},{"s":"1-mtp-4-p-SBF","x":10000,"y":20},
  {"s":"1,4-d(mbp)-SBF","x":2,"y":21},{"s":"1,4-d(mbp)-SBF","x":10,"y":21},{"s":"1,4-d(mbp)-SBF","x":40,"y":21},{"s":"1,4-d(mbp)-SBF","x":100,"y":21},{"s":"1,4-d(mbp)-SBF","x":300,"y":20.5},{"s":"1,4-d(mbp)-SBF","x":1000,"y":20},{"s":"1,4-d(mbp)-SBF","x":3000,"y":19},{"s":"1,4-d(mbp)-SBF","x":10000,"y":17.5}
 ],
 "c2P": [
  {"s":"1,4-dp-SBF","x":2,"y":88},{"s":"1,4-dp-SBF","x":10,"y":88},{"s":"1,4-dp-SBF","x":40,"y":86},{"s":"1,4-dp-SBF","x":100,"y":82},{"s":"1,4-dp-SBF","x":300,"y":75},{"s":"1,4-dp-SBF","x":1000,"y":62},{"s":"1,4-dp-SBF","x":3000,"y":46},{"s":"1,4-dp-SBF","x":10000,"y":30},
  {"s":"1-pbp-4-p-SBF","x":2,"y":90},{"s":"1-pbp-4-p-SBF","x":10,"y":93},{"s":"1-pbp-4-p-SBF","x":40,"y":95},{"s":"1-pbp-4-p-SBF","x":100,"y":93},{"s":"1-pbp-4-p-SBF","x":300,"y":88},{"s":"1-pbp-4-p-SBF","x":1000,"y":76},{"s":"1-pbp-4-p-SBF","x":3000,"y":62},{"s":"1-pbp-4-p-SBF","x":10000,"y":46},
  {"s":"1-mtp-4-p-SBF","x":10,"y":95},{"s":"1-mtp-4-p-SBF","x":40,"y":93},{"s":"1-mtp-4-p-SBF","x":100,"y":90},{"s":"1-mtp-4-p-SBF","x":300,"y":85},{"s":"1-mtp-4-p-SBF","x":1000,"y":75},{"s":"1-mtp-4-p-SBF","x":3000,"y":62},{"s":"1-mtp-4-p-SBF","x":10000,"y":48},
  {"s":"1,4-d(mbp)-SBF","x":2,"y":82},{"s":"1,4-d(mbp)-SBF","x":10,"y":80},{"s":"1,4-d(mbp)-SBF","x":40,"y":78},{"s":"1,4-d(mbp)-SBF","x":100,"y":75},{"s":"1,4-d(mbp)-SBF","x":300,"y":70},{"s":"1,4-d(mbp)-SBF","x":1000,"y":60},{"s":"1,4-d(mbp)-SBF","x":3000,"y":48},{"s":"1,4-d(mbp)-SBF","x":10000,"y":38}
 ],
 "c3E": [
  {"s":"1,4-dp-SBF","x":1.5,"y":22},{"s":"1,4-dp-SBF","x":5,"y":21},{"s":"1,4-dp-SBF","x":10,"y":20},{"s":"1,4-dp-SBF","x":30,"y":18.5},{"s":"1,4-dp-SBF","x":100,"y":17},{"s":"1,4-dp-SBF","x":300,"y":15},{"s":"1,4-dp-SBF","x":1000,"y":13},{"s":"1,4-dp-SBF","x":3000,"y":10},{"s":"1,4-dp-SBF","x":5000,"y":8},{"s":"1,4-dp-SBF","x":7000,"y":6},{"s":"1,4-dp-SBF","x":8500,"y":3.5},{"s":"1,4-dp-SBF","x":9000,"y":2.2},
  {"s":"1-pbp-4-p-SBF","x":1.5,"y":25},{"s":"1-pbp-4-p-SBF","x":5,"y":23},{"s":"1-pbp-4-p-SBF","x":10,"y":21},{"s":"1-pbp-4-p-SBF","x":30,"y":19.5},{"s":"1-pbp-4-p-SBF","x":100,"y":18},{"s":"1-pbp-4-p-SBF","x":300,"y":16},{"s":"1-pbp-4-p-SBF","x":1000,"y":13.5},{"s":"1-pbp-4-p-SBF","x":3000,"y":10},{"s":"1-pbp-4-p-SBF","x":5000,"y":7},{"s":"1-pbp-4-p-SBF","x":5800,"y":4.5},{"s":"1-pbp-4-p-SBF","x":6200,"y":3.0},
  {"s":"1-mtp-4-p-SBF","x":1.5,"y":21},{"s":"1-mtp-4-p-SBF","x":5,"y":20.5},{"s":"1-mtp-4-p-SBF","x":10,"y":20},{"s":"1-mtp-4-p-SBF","x":30,"y":18.5},{"s":"1-mtp-4-p-SBF","x":100,"y":17},{"s":"1-mtp-4-p-SBF","x":300,"y":15},{"s":"1-mtp-4-p-SBF","x":1000,"y":13},{"s":"1-mtp-4-p-SBF","x":3000,"y":10.5},{"s":"1-mtp-4-p-SBF","x":5000,"y":8.5},{"s":"1-mtp-4-p-SBF","x":8000,"y":6.8},{"s":"1-mtp-4-p-SBF","x":9000,"y":5.5},
  {"s":"1,4-d(mbp)-SBF","x":2,"y":22},{"s":"1,4-d(mbp)-SBF","x":5,"y":21},{"s":"1,4-d(mbp)-SBF","x":10,"y":20},{"s":"1,4-d(mbp)-SBF","x":30,"y":18.5},{"s":"1,4-d(mbp)-SBF","x":100,"y":17},{"s":"1,4-d(mbp)-SBF","x":300,"y":15.3},{"s":"1,4-d(mbp)-SBF","x":1000,"y":13.2},{"s":"1,4-d(mbp)-SBF","x":3000,"y":10.5},{"s":"1,4-d(mbp)-SBF","x":5000,"y":8.5},{"s":"1,4-d(mbp)-SBF","x":8000,"y":6}
 ],
 "c3P": [
  {"s":"1,4-dp-SBF","x":1.5,"y":42},{"s":"1,4-dp-SBF","x":5,"y":38},{"s":"1,4-dp-SBF","x":10,"y":35},{"s":"1,4-dp-SBF","x":30,"y":31},{"s":"1,4-dp-SBF","x":100,"y":27},{"s":"1,4-dp-SBF","x":300,"y":22},{"s":"1,4-dp-SBF","x":1000,"y":17},{"s":"1,4-dp-SBF","x":3000,"y":11},{"s":"1,4-dp-SBF","x":5000,"y":8},{"s":"1,4-dp-SBF","x":7000,"y":5},{"s":"1,4-dp-SBF","x":8500,"y":2.7},{"s":"1,4-dp-SBF","x":9000,"y":1.6},
  {"s":"1-pbp-4-p-SBF","x":1.5,"y":50},{"s":"1-pbp-4-p-SBF","x":5,"y":42},{"s":"1-pbp-4-p-SBF","x":10,"y":37},{"s":"1-pbp-4-p-SBF","x":30,"y":32},{"s":"1-pbp-4-p-SBF","x":100,"y":27},{"s":"1-pbp-4-p-SBF","x":300,"y":22},{"s":"1-pbp-4-p-SBF","x":1000,"y":16},{"s":"1-pbp-4-p-SBF","x":3000,"y":10.5},{"s":"1-pbp-4-p-SBF","x":5000,"y":6.5},{"s":"1-pbp-4-p-SBF","x":5800,"y":3.5},{"s":"1-pbp-4-p-SBF","x":6200,"y":2.1},
  {"s":"1-mtp-4-p-SBF","x":1.5,"y":44},{"s":"1-mtp-4-p-SBF","x":5,"y":40},{"s":"1-mtp-4-p-SBF","x":10,"y":36},{"s":"1-mtp-4-p-SBF","x":30,"y":31},{"s":"1-mtp-4-p-SBF","x":100,"y":27},{"s":"1-mtp-4-p-SBF","x":300,"y":22},{"s":"1-mtp-4-p-SBF","x":1000,"y":17},{"s":"1-mtp-4-p-SBF","x":3000,"y":12},{"s":"1-mtp-4-p-SBF","x":5000,"y":9},{"s":"1-mtp-4-p-SBF","x":8000,"y":6},{"s":"1-mtp-4-p-SBF","x":9000,"y":4},
  {"s":"1,4-d(mbp)-SBF","x":2,"y":48},{"s":"1,4-d(mbp)-SBF","x":5,"y":42},{"s":"1,4-d(mbp)-SBF","x":10,"y":38},{"s":"1,4-d(mbp)-SBF","x":30,"y":32},{"s":"1,4-d(mbp)-SBF","x":100,"y":28},{"s":"1,4-d(mbp)-SBF","x":300,"y":22.5},{"s":"1,4-d(mbp)-SBF","x":1000,"y":17.5},{"s":"1,4-d(mbp)-SBF","x":3000,"y":12},{"s":"1,4-d(mbp)-SBF","x":5000,"y":9},{"s":"1,4-d(mbp)-SBF","x":8000,"y":6.5}
 ]
},
"vconcat": [
 {"hconcat": [
  {"width": 163, "height": 120, "layer": [
   {"data": {"name": "a1"}, "encoding": {
     "x": {"field": "x", "type": "quantitative", "scale": {"domain": [350, 850], "nice": false, "zero": false}, "axis": {"title": "Wavelength (nm)", "values": [400, 500, 600, 700, 800]}},
     "y": {"field": "y", "type": "quantitative", "scale": {"domain": [0, 1.1], "nice": false}, "axis": {"title": "Normalized intensity (a.u.)", "values": [0, 0.2, 0.4, 0.6, 0.8, 1.0], "format": ".1f"}},
     "color": {"field": "s", "type": "nominal", "scale": {"domain": ["1,4-dp-SBF","1-pbp-4-p-SBF","1-mtp-4-p-SBF","1,4-d(mbp)-SBF"]}, "legend": {"title": "\u00a0\u00a0\u00a0Host:", "orient": "top-right", "offset": 0}},
     "shape": {"field": "s", "type": "nominal", "scale": {"domain": ["1,4-dp-SBF","1-pbp-4-p-SBF","1-mtp-4-p-SBF","1,4-d(mbp)-SBF"]}, "legend": {"title": "\u00a0\u00a0\u00a0Host:", "orient": "top-right", "offset": 0}}},
    "layer": [{"mark": {"type": "line", "clip": true, "strokeWidth": 2}}, {"mark": {"type": "point", "clip": true}}]},
   {"data": {"values": [{"x": 354, "y": 1.04, "t": "Emitter:"}]}, "mark": {"type": "text", "align": "left"}, "encoding": {"x": {"field": "x", "type": "quantitative"}, "y": {"field": "y", "type": "quantitative"}, "text": {"field": "t"}}},
   {"data": {"values": [{"x": 447, "y": 1.04, "t": "Ir(mphmq)₂tmd"}]}, "mark": {"type": "text", "align": "left", "fontWeight": "bold"}, "encoding": {"x": {"field": "x", "type": "quantitative"}, "y": {"field": "y", "type": "quantitative"}, "text": {"field": "t"}}}
  ]},
  {"width": 163, "height": 120, "layer": [
   {"data": {"name": "a2"}, "encoding": {
     "x": {"field": "x", "type": "quantitative", "scale": {"domain": [280, 850], "nice": false, "zero": false}, "axis": {"title": "Wavelength (nm)", "values": [300, 400, 500, 600, 700, 800]}},
     "y": {"field": "y", "type": "quantitative", "scale": {"domain": [0, 1.1], "nice": false}, "axis": {"title": "Normalized intensity (a.u.)", "values": [0, 0.2, 0.4, 0.6, 0.8, 1.0], "format": ".1f"}},
     "color": {"field": "s", "type": "nominal", "scale": {"domain": ["1,4-dp-SBF","1-pbp-4-p-SBF","1-mtp-4-p-SBF","1,4-d(mbp)-SBF"]}, "legend": {"title": "\u00a0\u00a0\u00a0Host:", "orient": "top-right", "offset": 0}},
     "shape": {"field": "s", "type": "nominal", "scale": {"domain": ["1,4-dp-SBF","1-pbp-4-p-SBF","1-mtp-4-p-SBF","1,4-d(mbp)-SBF"]}, "legend": {"title": "\u00a0\u00a0\u00a0Host:", "orient": "top-right", "offset": 0}}},
    "layer": [{"mark": {"type": "line", "clip": true, "strokeWidth": 2}}, {"mark": {"type": "point", "clip": true}}]},
   {"data": {"values": [{"x": 290, "y": 1.03, "t": "Emitter:"}]}, "mark": {"type": "text", "align": "left"}, "encoding": {"x": {"field": "x", "type": "quantitative"}, "y": {"field": "y", "type": "quantitative"}, "text": {"field": "t"}}},
   {"data": {"values": [{"x": 395, "y": 1.03, "t": "Ir(ppy)₂acac"}]}, "mark": {"type": "text", "align": "left", "fontWeight": "bold"}, "encoding": {"x": {"field": "x", "type": "quantitative"}, "y": {"field": "y", "type": "quantitative"}, "text": {"field": "t"}}}
  ]},
  {"width": 163, "height": 120, "layer": [
   {"data": {"name": "a3"}, "encoding": {
     "x": {"field": "x", "type": "quantitative", "scale": {"domain": [280, 850], "nice": false, "zero": false}, "axis": {"title": "Wavelength (nm)", "values": [300, 400, 500, 600, 700, 800]}},
     "y": {"field": "y", "type": "quantitative", "scale": {"domain": [0, 1.1], "nice": false}, "axis": {"title": "Normalized intensity (a.u.)", "values": [0, 0.2, 0.4, 0.6, 0.8, 1.0], "format": ".1f"}},
     "color": {"field": "s", "type": "nominal", "scale": {"domain": ["1,4-dp-SBF","1-pbp-4-p-SBF","1-mtp-4-p-SBF","1,4-d(mbp)-SBF"]}, "legend": {"title": "\u00a0\u00a0\u00a0Host:", "orient": "top-right", "offset": 0}},
     "shape": {"field": "s", "type": "nominal", "scale": {"domain": ["1,4-dp-SBF","1-pbp-4-p-SBF","1-mtp-4-p-SBF","1,4-d(mbp)-SBF"]}, "legend": {"title": "\u00a0\u00a0\u00a0Host:", "orient": "top-right", "offset": 0}}},
    "layer": [{"mark": {"type": "line", "clip": true, "strokeWidth": 2}}, {"mark": {"type": "point", "clip": true}}]},
   {"data": {"values": [{"x": 294, "y": 1.04, "t": "Emitter:"}]}, "mark": {"type": "text", "align": "left"}, "encoding": {"x": {"field": "x", "type": "quantitative"}, "y": {"field": "y", "type": "quantitative"}, "text": {"field": "t"}}},
   {"data": {"values": [{"x": 395, "y": 1.04, "t": "FIrpic"}]}, "mark": {"type": "text", "align": "left", "fontWeight": "bold"}, "encoding": {"x": {"field": "x", "type": "quantitative"}, "y": {"field": "y", "type": "quantitative"}, "text": {"field": "t"}}}
  ]}
 ], "spacing": 70, "bounds": "flush",
 "title": {"text": "(a)", "anchor": "start", "frame": "bounds", "fontSize": 17, "fontWeight": "bold", "offset": -4, "dx": -12},
 "resolve": {"scale": {"color": "independent", "shape": "independent"}, "legend": {"color": "independent", "shape": "independent"}}},
 {"hconcat": [
  {"width": 163, "height": 120, "layer": [
   {"layer": [
    {"data": {"name": "b1J"}, "encoding": {
      "x": {"field": "x", "type": "quantitative", "scale": {"domain": [3.1, 10], "nice": false, "zero": false}, "axis": {"title": "Voltage (V)", "values": [4, 6, 8, 10]}},
      "y": {"field": "y", "type": "quantitative", "scale": {"domain": [0, 3000], "nice": false}, "axis": {"orient": "left", "title": "Current Density (A m⁻²)", "values": [0, 500, 1000, 1500, 2000, 2500, 3000], "format": "d"}},
      "color": {"field": "s", "type": "nominal", "scale": {"domain": ["1,4-dp-SBF","1-pbp-4-p-SBF","1-mtp-4-p-SBF","1,4-d(mbp)-SBF"]}, "legend": {"title": "\u00a0\u00a0\u00a0Host:", "orient": "none", "legendX": 55, "legendY": 41}},
      "shape": {"field": "s", "type": "nominal", "scale": {"domain": ["1,4-dp-SBF","1-pbp-4-p-SBF","1-mtp-4-p-SBF","1,4-d(mbp)-SBF"]}, "legend": {"title": "\u00a0\u00a0\u00a0Host:", "orient": "none", "legendX": 55, "legendY": 41}}},
     "layer": [{"mark": {"type": "line", "clip": true}}, {"mark": {"type": "point", "clip": true}}]},
    {"data": {"values": [{"x": 3.23, "y": 2800, "t": "Emitter:"}, {"x": 6.6, "y": 2600, "t": "→"}, {"x": 7.05, "y": 440, "t": "←"}]}, "mark": {"type": "text", "align": "left"}, "encoding": {"x": {"field": "x", "type": "quantitative"}, "y": {"field": "y", "type": "quantitative"}, "text": {"field": "t"}}},
    {"data": {"values": [{"x": 4.5, "y": 2800, "t": "Ir(mphmq)₂tmd"}]}, "mark": {"type": "text", "align": "left", "fontWeight": "bold"}, "encoding": {"x": {"field": "x", "type": "quantitative"}, "y": {"field": "y", "type": "quantitative"}, "text": {"field": "t"}}},
    {"data": {"values": [{"x": 6.4, "y": 2400}, {"x": 7.3, "y": 200}]}, "mark": {"type": "point", "shape": "M0,-1 A0.32,1 0 1,1 0,1 A0.32,1 0 1,1 0,-1 Z", "size": 380, "filled": false, "stroke": "#333333", "strokeWidth": 0.8}, "encoding": {"x": {"field": "x", "type": "quantitative"}, "y": {"field": "y", "type": "quantitative"}}}
   ]},
   {"data": {"name": "b1L"}, "encoding": {
     "x": {"field": "x", "type": "quantitative"},
     "y": {"field": "y", "type": "quantitative", "scale": {"type": "log", "domain": [1, 10000], "nice": false}, "axis": {"orient": "right", "title": "Luminance (cd m⁻²)", "values": [1, 10, 100, 1000, 10000], "labelExpr": "'10' + ['⁻³','⁻²','⁻¹','⁰','¹','²','³','⁴','⁵'][round(log(datum.value)/LN10)+3]"}},
     "color": {"field": "s", "type": "nominal", "scale": {"domain": ["1,4-dp-SBF","1-pbp-4-p-SBF","1-mtp-4-p-SBF","1,4-d(mbp)-SBF"]}, "legend": null},
     "shape": {"field": "s", "type": "nominal", "scale": {"domain": ["1,4-dp-SBF","1-pbp-4-p-SBF","1-mtp-4-p-SBF","1,4-d(mbp)-SBF"]}, "legend": null}},
    "layer": [{"mark": {"type": "line", "clip": true}}, {"mark": {"type": "point", "clip": true}}]}
  ], "resolve": {"scale": {"y": "independent"}}},
  {"width": 163, "height": 120, "layer": [
   {"layer": [
    {"data": {"name": "b2J"}, "encoding": {
      "x": {"field": "x", "type": "quantitative", "scale": {"domain": [2.9, 10], "nice": false, "zero": false}, "axis": {"title": "Voltage (V)", "values": [4, 6, 8, 10]}},
      "y": {"field": "y", "type": "quantitative", "scale": {"domain": [0, 4200], "nice": false}, "axis": {"orient": "left", "title": "Current Density (A m⁻²)", "values": [0, 1000, 2000, 3000, 4000], "format": "d"}},
      "color": {"field": "s", "type": "nominal", "scale": {"domain": ["1,4-dp-SBF","1-pbp-4-p-SBF","1-mtp-4-p-SBF","1,4-d(mbp)-SBF"]}, "legend": {"title": "\u00a0\u00a0\u00a0Host:", "orient": "none", "legendX": 36, "legendY": 32}},
      "shape": {"field": "s", "type": "nominal", "scale": {"domain": ["1,4-dp-SBF","1-pbp-4-p-SBF","1-mtp-4-p-SBF","1,4-d(mbp)-SBF"]}, "legend": {"title": "\u00a0\u00a0\u00a0Host:", "orient": "none", "legendX": 36, "legendY": 32}}},
     "layer": [{"mark": {"type": "line", "clip": true}}, {"mark": {"type": "point", "clip": true}}]},
    {"data": {"values": [{"x": 5.91, "y": 3640, "t": "Emitter:"}, {"x": 3.95, "y": 1645, "t": "→"}, {"x": 5.85, "y": 780, "t": "←"}]}, "mark": {"type": "text", "align": "left"}, "encoding": {"x": {"field": "x", "type": "quantitative"}, "y": {"field": "y", "type": "quantitative"}, "text": {"field": "t"}}},
    {"data": {"values": [{"x": 7.22, "y": 3640, "t": "Ir(ppy)₂acac"}]}, "mark": {"type": "text", "align": "left", "fontWeight": "bold"}, "encoding": {"x": {"field": "x", "type": "quantitative"}, "y": {"field": "y", "type": "quantitative"}, "text": {"field": "t"}}},
    {"data": {"values": [{"x": 3.47, "y": 1645}]}, "mark": {"type": "point", "shape": "M-1,0 A1,0.3 0 1,1 1,0 A1,0.3 0 1,1 -1,0 Z", "size": 330, "filled": false, "stroke": "#333333", "strokeWidth": 0.8}, "encoding": {"x": {"field": "x", "type": "quantitative"}, "y": {"field": "y", "type": "quantitative"}}},
    {"data": {"values": [{"x": 6.26, "y": 455}]}, "mark": {"type": "point", "shape": "M0,-1 A0.32,1 0 1,1 0,1 A0.32,1 0 1,1 0,-1 Z", "size": 380, "filled": false, "stroke": "#333333", "strokeWidth": 0.8}, "encoding": {"x": {"field": "x", "type": "quantitative"}, "y": {"field": "y", "type": "quantitative"}}}
   ]},
   {"data": {"name": "b2L"}, "encoding": {
     "x": {"field": "x", "type": "quantitative"},
     "y": {"field": "y", "type": "quantitative", "scale": {"type": "log", "domain": [1, 10000], "nice": false}, "axis": {"orient": "right", "title": "Luminance (cd m⁻²)", "values": [1, 10, 100, 1000, 10000], "labelExpr": "'10' + ['⁻³','⁻²','⁻¹','⁰','¹','²','³','⁴','⁵'][round(log(datum.value)/LN10)+3]"}},
     "color": {"field": "s", "type": "nominal", "scale": {"domain": ["1,4-dp-SBF","1-pbp-4-p-SBF","1-mtp-4-p-SBF","1,4-d(mbp)-SBF"]}, "legend": null},
     "shape": {"field": "s", "type": "nominal", "scale": {"domain": ["1,4-dp-SBF","1-pbp-4-p-SBF","1-mtp-4-p-SBF","1,4-d(mbp)-SBF"]}, "legend": null}},
    "layer": [{"mark": {"type": "line", "clip": true}}, {"mark": {"type": "point", "clip": true}}]}
  ], "resolve": {"scale": {"y": "independent"}}},
  {"width": 163, "height": 120, "layer": [
   {"layer": [
    {"data": {"name": "b3J"}, "encoding": {
      "x": {"field": "x", "type": "quantitative", "scale": {"domain": [3, 10], "nice": false, "zero": false}, "axis": {"title": "Voltage (V)", "values": [4, 6, 8, 10]}},
      "y": {"field": "y", "type": "quantitative", "scale": {"domain": [0, 2800], "nice": false}, "axis": {"orient": "left", "title": "Current Density (A m⁻²)", "values": [0, 500, 1000, 1500, 2000, 2500], "format": "d"}},
      "color": {"field": "s", "type": "nominal", "scale": {"domain": ["1,4-dp-SBF","1-pbp-4-p-SBF","1-mtp-4-p-SBF","1,4-d(mbp)-SBF"]}, "legend": {"title": "\u00a0\u00a0\u00a0Host:", "orient": "none", "legendX": 43, "legendY": 40}},
      "shape": {"field": "s", "type": "nominal", "scale": {"domain": ["1,4-dp-SBF","1-pbp-4-p-SBF","1-mtp-4-p-SBF","1,4-d(mbp)-SBF"]}, "legend": {"title": "\u00a0\u00a0\u00a0Host:", "orient": "none", "legendX": 43, "legendY": 40}}},
     "layer": [{"mark": {"type": "line", "clip": true}}, {"mark": {"type": "point", "clip": true}}]},
    {"data": {"values": [{"x": 3.22, "y": 2613, "t": "Emitter:"}, {"x": 5.6, "y": 2500, "t": "→"}, {"x": 6.2, "y": 420, "t": "←"}]}, "mark": {"type": "text", "align": "left"}, "encoding": {"x": {"field": "x", "type": "quantitative"}, "y": {"field": "y", "type": "quantitative"}, "text": {"field": "t"}}},
    {"data": {"values": [{"x": 4.51, "y": 2613, "t": "FIrpic"}]}, "mark": {"type": "text", "align": "left", "fontWeight": "bold"}, "encoding": {"x": {"field": "x", "type": "quantitative"}, "y": {"field": "y", "type": "quantitative"}, "text": {"field": "t"}}},
    {"data": {"values": [{"x": 5.55, "y": 2287}, {"x": 6.63, "y": 397}]}, "mark": {"type": "point", "shape": "M0,-1 A0.32,1 0 1,1 0,1 A0.32,1 0 1,1 0,-1 Z", "size": 380, "filled": false, "stroke": "#333333", "strokeWidth": 0.8}, "encoding": {"x": {"field": "x", "type": "quantitative"}, "y": {"field": "y", "type": "quantitative"}}}
   ]},
   {"data": {"name": "b3L"}, "encoding": {
     "x": {"field": "x", "type": "quantitative"},
     "y": {"field": "y", "type": "quantitative", "scale": {"type": "log", "domain": [1, 10000], "nice": false}, "axis": {"orient": "right", "title": "Luminance (cd m⁻²)", "values": [1, 10, 100, 1000, 10000], "labelExpr": "'10' + ['⁻³','⁻²','⁻¹','⁰','¹','²','³','⁴','⁵'][round(log(datum.value)/LN10)+3]"}},
     "color": {"field": "s", "type": "nominal", "scale": {"domain": ["1,4-dp-SBF","1-pbp-4-p-SBF","1-mtp-4-p-SBF","1,4-d(mbp)-SBF"]}, "legend": null},
     "shape": {"field": "s", "type": "nominal", "scale": {"domain": ["1,4-dp-SBF","1-pbp-4-p-SBF","1-mtp-4-p-SBF","1,4-d(mbp)-SBF"]}, "legend": null}},
    "layer": [{"mark": {"type": "line", "clip": true}}, {"mark": {"type": "point", "clip": true}}]}
  ], "resolve": {"scale": {"y": "independent"}}}
 ], "spacing": 70, "bounds": "flush",
 "title": {"text": "(b)", "anchor": "start", "frame": "bounds", "fontSize": 17, "fontWeight": "bold", "offset": -5, "dx": -12},
 "resolve": {"scale": {"color": "independent", "shape": "independent"}, "legend": {"color": "independent", "shape": "independent"}}},
 {"hconcat": [
  {"width": 163, "height": 120, "layer": [
   {"layer": [
    {"data": {"name": "c1E"}, "encoding": {
      "x": {"field": "x", "type": "quantitative", "scale": {"type": "log", "domain": [1, 10000], "nice": false}, "axis": {"title": "Luminance (cd m⁻²)", "values": [1, 10, 100, 1000, 10000], "labelExpr": "'10' + ['⁻³','⁻²','⁻¹','⁰','¹','²','³','⁴','⁵'][round(log(datum.value)/LN10)+3]"}},
      "y": {"field": "y", "type": "quantitative", "scale": {"type": "log", "domain": [0.005, 100], "nice": false}, "axis": {"orient": "left", "title": "EQE (%)", "values": [0.01, 0.1, 1, 10, 100], "labelExpr": "'10' + ['⁻³','⁻²','⁻¹','⁰','¹','²','³','⁴','⁵'][round(log(datum.value)/LN10)+3]"}},
      "color": {"field": "s", "type": "nominal", "scale": {"domain": ["1,4-dp-SBF","1-pbp-4-p-SBF","1-mtp-4-p-SBF","1,4-d(mbp)-SBF"]}, "legend": {"title": "Host:", "orient": "none", "legendX": 3, "legendY": 26, "titleOrient": "left", "titleAnchor": "start"}},
      "shape": {"field": "s", "type": "nominal", "scale": {"domain": ["1,4-dp-SBF","1-pbp-4-p-SBF","1-mtp-4-p-SBF","1,4-d(mbp)-SBF"]}, "legend": {"title": "Host:", "orient": "none", "legendX": 3, "legendY": 26, "titleOrient": "left", "titleAnchor": "start"}}},
     "layer": [{"mark": {"type": "line", "clip": true}}, {"mark": {"type": "point", "clip": true}}]},
    {"data": {"values": [{"x": 1.19, "y": 56, "t": "Emitter:"}, {"x": 160, "y": 41, "t": "←"}, {"x": 750, "y": 0.17, "t": "→"}]}, "mark": {"type": "text", "align": "left"}, "encoding": {"x": {"field": "x", "type": "quantitative"}, "y": {"field": "y", "type": "quantitative"}, "text": {"field": "t"}}},
    {"data": {"values": [{"x": 6.5, "y": 56, "t": "Ir(mphmq)₂tmd"}]}, "mark": {"type": "text", "align": "left", "fontWeight": "bold"}, "encoding": {"x": {"field": "x", "type": "quantitative"}, "y": {"field": "y", "type": "quantitative"}, "text": {"field": "t"}}},
    {"data": {"values": [{"x": 295, "y": 19}, {"x": 617, "y": 0.055}]}, "mark": {"type": "point", "shape": "M0,-1 A0.32,1 0 1,1 0,1 A0.32,1 0 1,1 0,-1 Z", "size": 480, "filled": false, "stroke": "#333333", "strokeWidth": 0.8}, "encoding": {"x": {"field": "x", "type": "quantitative"}, "y": {"field": "y", "type": "quantitative"}}}
   ]},
   {"data": {"name": "c1P"}, "encoding": {
     "x": {"field": "x", "type": "quantitative"},
     "y": {"field": "y", "type": "quantitative", "scale": {"type": "log", "domain": [1, 10000], "nice": false}, "axis": {"orient": "right", "title": "Power Efficiency (lm W⁻¹)", "values": [1, 10, 100, 1000, 10000], "labelExpr": "'10' + ['⁻³','⁻²','⁻¹','⁰','¹','²','³','⁴','⁵'][round(log(datum.value)/LN10)+3]"}},
     "color": {"field": "s", "type": "nominal", "scale": {"domain": ["1,4-dp-SBF","1-pbp-4-p-SBF","1-mtp-4-p-SBF","1,4-d(mbp)-SBF"]}, "legend": null},
     "shape": {"field": "s", "type": "nominal", "scale": {"domain": ["1,4-dp-SBF","1-pbp-4-p-SBF","1-mtp-4-p-SBF","1,4-d(mbp)-SBF"]}, "legend": null}},
    "layer": [{"mark": {"type": "line", "clip": true}}, {"mark": {"type": "point", "clip": true}}]}
  ], "resolve": {"scale": {"y": "independent"}}},
  {"width": 163, "height": 120, "layer": [
   {"layer": [
    {"data": {"name": "c2E"}, "encoding": {
      "x": {"field": "x", "type": "quantitative", "scale": {"type": "log", "domain": [2, 10000], "nice": false}, "axis": {"title": "Luminance (cd m⁻²)", "values": [10, 100, 1000, 10000], "labelExpr": "'10' + ['⁻³','⁻²','⁻¹','⁰','¹','²','³','⁴','⁵'][round(log(datum.value)/LN10)+3]"}},
      "y": {"field": "y", "type": "quantitative", "scale": {"type": "log", "domain": [0.004, 100], "nice": false}, "axis": {"orient": "left", "title": "EQE (%)", "values": [0.01, 0.1, 1, 10, 100], "labelExpr": "'10' + ['⁻³','⁻²','⁻¹','⁰','¹','²','³','⁴','⁵'][round(log(datum.value)/LN10)+3]"}},
      "color": {"field": "s", "type": "nominal", "scale": {"domain": ["1,4-dp-SBF","1-pbp-4-p-SBF","1-mtp-4-p-SBF","1,4-d(mbp)-SBF"]}, "legend": {"title": "Host:", "orient": "none", "legendX": 4, "legendY": 25, "titleOrient": "left", "titleAnchor": "start"}},
      "shape": {"field": "s", "type": "nominal", "scale": {"domain": ["1,4-dp-SBF","1-pbp-4-p-SBF","1-mtp-4-p-SBF","1,4-d(mbp)-SBF"]}, "legend": {"title": "Host:", "orient": "none", "legendX": 4, "legendY": 25, "titleOrient": "left", "titleAnchor": "start"}}},
     "layer": [{"mark": {"type": "line", "clip": true}}, {"mark": {"type": "point", "clip": true}}]},
    {"data": {"values": [{"x": 2.47, "y": 55, "t": "Emitter:"}, {"x": 180, "y": 43, "t": "←"}, {"x": 900, "y": 0.38, "t": "→"}]}, "mark": {"type": "text", "align": "left"}, "encoding": {"x": {"field": "x", "type": "quantitative"}, "y": {"field": "y", "type": "quantitative"}, "text": {"field": "t"}}},
    {"data": {"values": [{"x": 11.8, "y": 55, "t": "Ir(ppy)₂acac"}]}, "mark": {"type": "text", "align": "left", "fontWeight": "bold"}, "encoding": {"x": {"field": "x", "type": "quantitative"}, "y": {"field": "y", "type": "quantitative"}, "text": {"field": "t"}}},
    {"data": {"values": [{"x": 340, "y": 17}, {"x": 780, "y": 0.18}]}, "mark": {"type": "point", "shape": "M0,-1 A0.32,1 0 1,1 0,1 A0.32,1 0 1,1 0,-1 Z", "size": 480, "filled": false, "stroke": "#333333", "strokeWidth": 0.8}, "encoding": {"x": {"field": "x", "type": "quantitative"}, "y": {"field": "y", "type": "quantitative"}}}
   ]},
   {"data": {"name": "c2P"}, "encoding": {
     "x": {"field": "x", "type": "quantitative"},
     "y": {"field": "y", "type": "quantitative", "scale": {"type": "log", "domain": [1, 100000], "nice": false}, "axis": {"orient": "right", "title": "Power Efficiency (lm W⁻¹)", "values": [1, 10, 100, 1000, 10000, 100000], "labelExpr": "'10' + ['⁻³','⁻²','⁻¹','⁰','¹','²','³','⁴','⁵'][round(log(datum.value)/LN10)+3]"}},
     "color": {"field": "s", "type": "nominal", "scale": {"domain": ["1,4-dp-SBF","1-pbp-4-p-SBF","1-mtp-4-p-SBF","1,4-d(mbp)-SBF"]}, "legend": null},
     "shape": {"field": "s", "type": "nominal", "scale": {"domain": ["1,4-dp-SBF","1-pbp-4-p-SBF","1-mtp-4-p-SBF","1,4-d(mbp)-SBF"]}, "legend": null}},
    "layer": [{"mark": {"type": "line", "clip": true}}, {"mark": {"type": "point", "clip": true}}]}
  ], "resolve": {"scale": {"y": "independent"}}},
  {"width": 163, "height": 120, "layer": [
   {"layer": [
    {"data": {"name": "c3E"}, "encoding": {
      "x": {"field": "x", "type": "quantitative", "scale": {"type": "log", "domain": [1, 10000], "nice": false}, "axis": {"title": "Luminance (cd m⁻²)", "values": [1, 10, 100, 1000, 10000], "labelExpr": "'10' + ['⁻³','⁻²','⁻¹','⁰','¹','²','³','⁴','⁵'][round(log(datum.value)/LN10)+3]"}},
      "y": {"field": "y", "type": "quantitative", "scale": {"type": "log", "domain": [0.005, 100], "nice": false}, "axis": {"orient": "left", "title": "EQE (%)", "values": [0.01, 0.1, 1, 10, 100], "labelExpr": "'10' + ['⁻³','⁻²','⁻¹','⁰','¹','²','³','⁴','⁵'][round(log(datum.value)/LN10)+3]"}},
      "color": {"field": "s", "type": "nominal", "scale": {"domain": ["1,4-dp-SBF","1-pbp-4-p-SBF","1-mtp-4-p-SBF","1,4-d(mbp)-SBF"]}, "legend": {"title": "Host:", "orient": "none", "legendX": 6, "legendY": 25, "titleOrient": "left", "titleAnchor": "start"}},
      "shape": {"field": "s", "type": "nominal", "scale": {"domain": ["1,4-dp-SBF","1-pbp-4-p-SBF","1-mtp-4-p-SBF","1,4-d(mbp)-SBF"]}, "legend": {"title": "Host:", "orient": "none", "legendX": 6, "legendY": 25, "titleOrient": "left", "titleAnchor": "start"}}},
     "layer": [{"mark": {"type": "line", "clip": true}}, {"mark": {"type": "point", "clip": true}}]},
    {"data": {"values": [{"x": 1.4, "y": 55, "t": "Emitter:"}, {"x": 170, "y": 41, "t": "←"}, {"x": 680, "y": 0.4, "t": "→"}]}, "mark": {"type": "text", "align": "left"}, "encoding": {"x": {"field": "x", "type": "quantitative"}, "y": {"field": "y", "type": "quantitative"}, "text": {"field": "t"}}},
    {"data": {"values": [{"x": 7.3, "y": 55, "t": "FIrpic"}]}, "mark": {"type": "text", "align": "left", "fontWeight": "bold"}, "encoding": {"x": {"field": "x", "type": "quantitative"}, "y": {"field": "y", "type": "quantitative"}, "text": {"field": "t"}}},
    {"data": {"values": [{"x": 295, "y": 19}, {"x": 590, "y": 0.16}]}, "mark": {"type": "point", "shape": "M0,-1 A0.32,1 0 1,1 0,1 A0.32,1 0 1,1 0,-1 Z", "size": 480, "filled": false, "stroke": "#333333", "strokeWidth": 0.8}, "encoding": {"x": {"field": "x", "type": "quantitative"}, "y": {"field": "y", "type": "quantitative"}}}
   ]},
   {"data": {"name": "c3P"}, "encoding": {
     "x": {"field": "x", "type": "quantitative"},
     "y": {"field": "y", "type": "quantitative", "scale": {"type": "log", "domain": [1, 10000], "nice": false}, "axis": {"orient": "right", "title": "Power Efficiency (lm W⁻¹)", "values": [1, 10, 100, 1000, 10000], "labelExpr": "'10' + ['⁻³','⁻²','⁻¹','⁰','¹','²','³','⁴','⁵'][round(log(datum.value)/LN10)+3]"}},
     "color": {"field": "s", "type": "nominal", "scale": {"domain": ["1,4-dp-SBF","1-pbp-4-p-SBF","1-mtp-4-p-SBF","1,4-d(mbp)-SBF"]}, "legend": null},
     "shape": {"field": "s", "type": "nominal", "scale": {"domain": ["1,4-dp-SBF","1-pbp-4-p-SBF","1-mtp-4-p-SBF","1,4-d(mbp)-SBF"]}, "legend": null}},
    "layer": [{"mark": {"type": "line", "clip": true}}, {"mark": {"type": "point", "clip": true}}]}
  ], "resolve": {"scale": {"y": "independent"}}}
 ], "spacing": 70, "bounds": "flush",
 "title": {"text": "(c)", "anchor": "start", "frame": "bounds", "fontSize": 17, "fontWeight": "bold", "offset": -13, "dx": -12},
 "resolve": {"scale": {"color": "independent", "shape": "independent"}, "legend": {"color": "independent", "shape": "independent"}}}
],
"spacing": 0,
"resolve": {"scale": {"color": "independent", "shape": "independent"}, "legend": {"color": "independent", "shape": "independent"}}
}
